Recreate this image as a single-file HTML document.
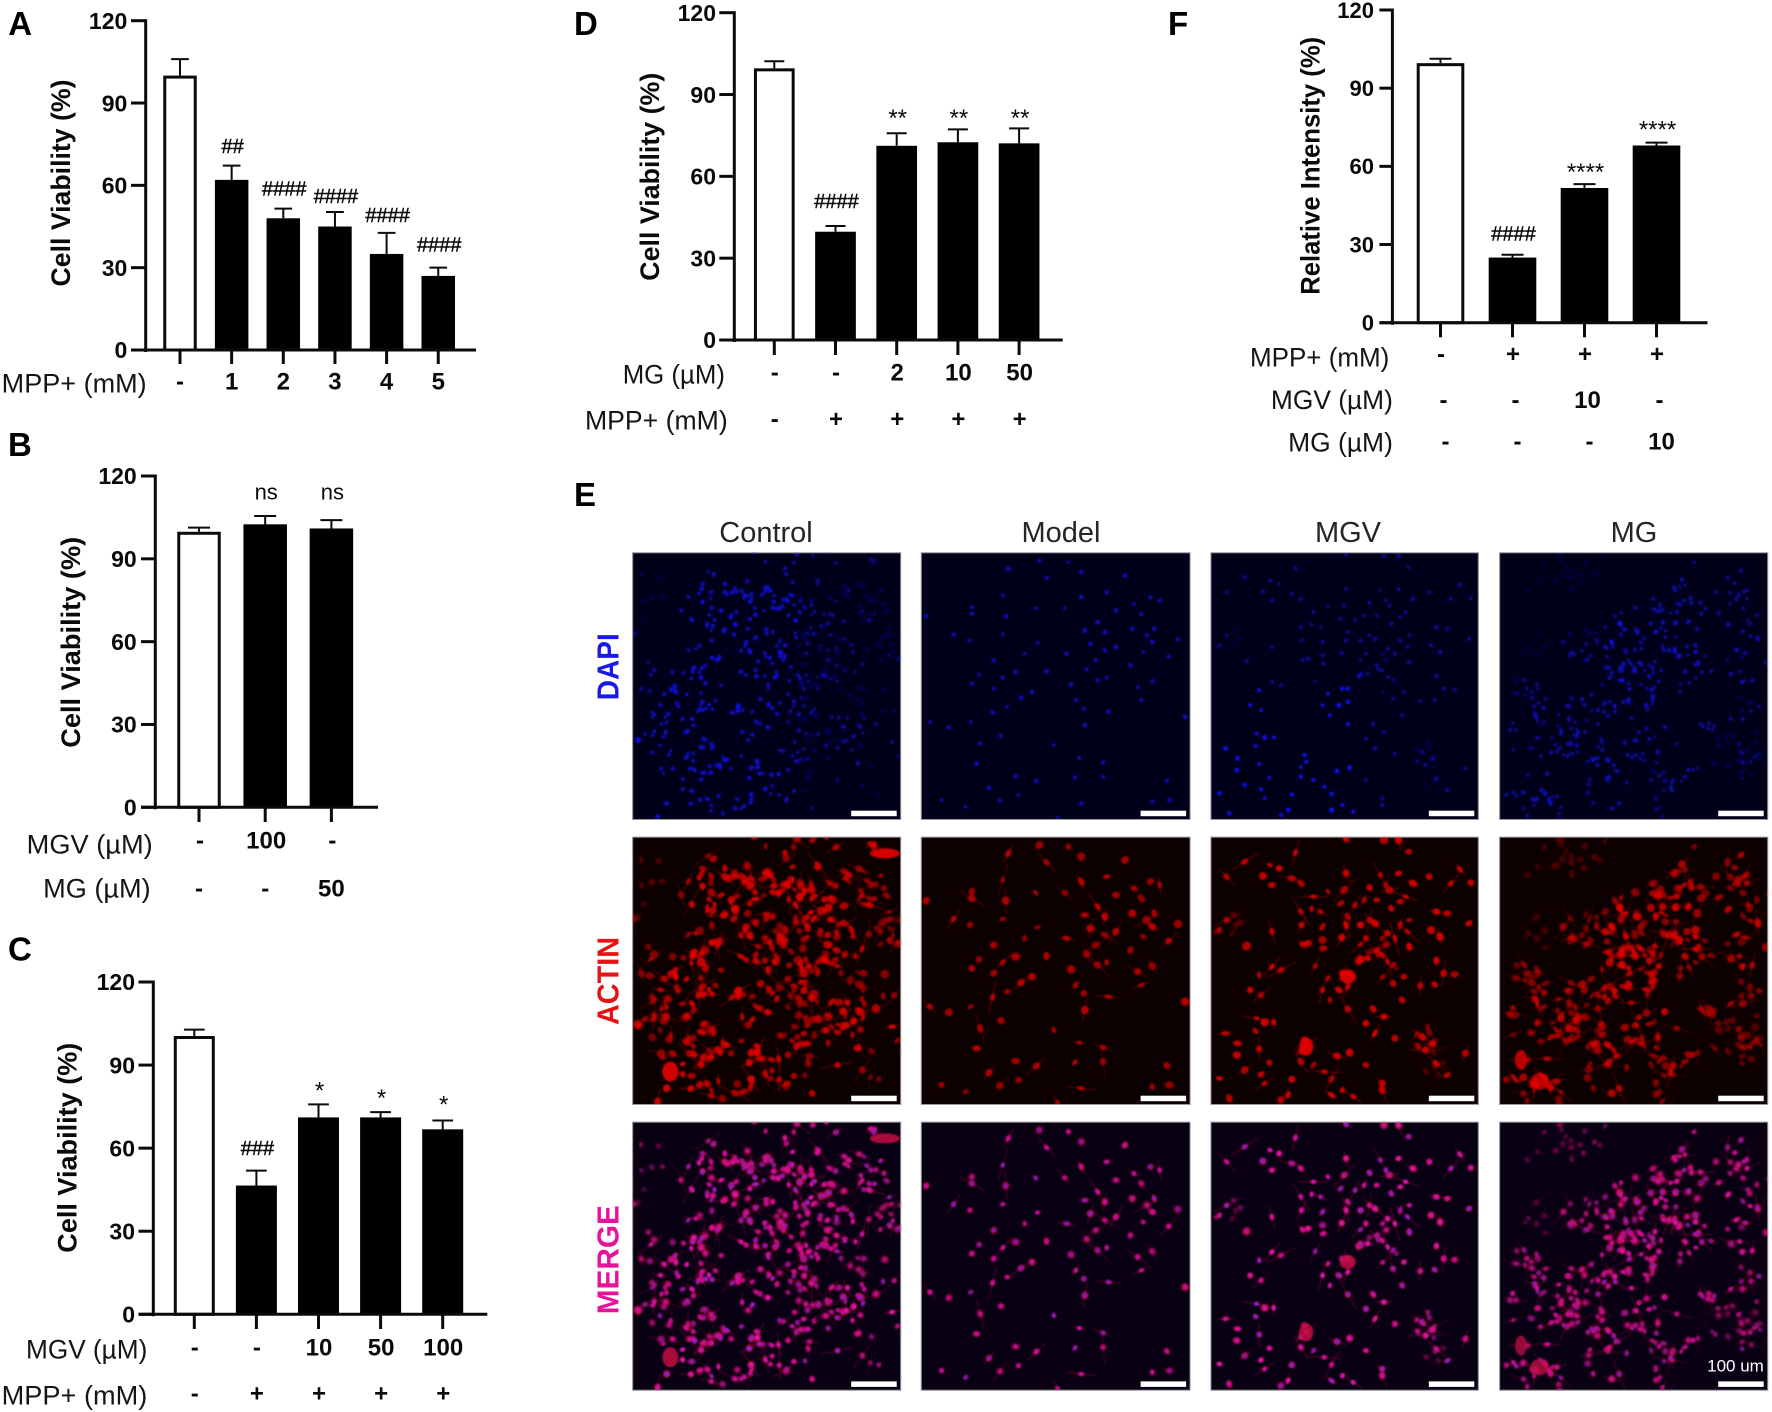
<!DOCTYPE html>
<html lang="en">
<head>
<meta charset="utf-8">
<title>Cell viability bar charts and fluorescence micrographs</title>
<style>
html,body{margin:0;padding:0;background:#fff;}
svg{display:block;font-family:"Liberation Sans",Arial,sans-serif;}
</style>
</head>
<body>
<svg id="figure" xmlns="http://www.w3.org/2000/svg" width="1772" height="1412" viewBox="0 0 1772 1412">
  <defs>
    <filter id="soft" x="-5%" y="-5%" width="110%" height="110%"><feGaussianBlur stdDeviation="0.75"/></filter>
  </defs>
  <rect x="0" y="0" width="1772" height="1412" fill="#fff"/>
</svg>
<script>
// ---------- Chart data ----------
const yTickValues = [0, 30, 60, 90, 120];

const panelAValues = [100, 62, 48, 45, 35, 27];
const panelAErrorTops = [106, 67.2, 51.5, 50.3, 42.7, 30];
const panelAMarks = ['', '##', '####', '####', '####', '####'];
const panelAMarkLevels = [0, 74.4, 58.9, 56.2, 49.2, 38.5];
const panelARowMPP = ['-', '1', '2', '3', '4', '5'];

const panelBValues = [99.8, 102.5, 101];
const panelBErrorTops = [101.3, 105.5, 104];
const panelBMarks = ['', 'ns', 'ns'];
const panelBMarkLevels = [0, 113.5, 113.5];
const panelBRowMGV = ['-', '100', '-'];
const panelBRowMG = ['-', '-', '50'];

const panelCValues = [100.5, 46.5, 71.1, 71.1, 66.8];
const panelCErrorTops = [102.8, 51.9, 75.8, 73, 70];
const panelCMarks = ['', '###', '*', '*', '*'];
const panelCMarkLevels = [0, 60, 82.8, 80.2, 77.8];
const panelCRowMGV = ['-', '-', '10', '50', '100'];
const panelCRowMPP = ['-', '+', '+', '+', '+'];

const panelDValues = [99.6, 39.7, 71.2, 72.5, 72.1];
const panelDErrorTops = [102.2, 41.8, 75.8, 77.2, 77.6];
const panelDMarks = ['', '####', '**', '**', '**'];
const panelDMarkLevels = [0, 51, 83.5, 83.5, 83.5];
const panelDRowMG = ['-', '-', '2', '10', '50'];
const panelDRowMPP = ['-', '+', '+', '+', '+'];

const panelFValues = [99.6, 25, 51.7, 68];
const panelFErrorTops = [101.3, 26.1, 53.2, 69.1];
const panelFMarks = ['', '####', '****', '****'];
const panelFMarkLevels = [0, 34.3, 60.1, 76.4];
const panelFRowMPP = ['-', '+', '+', '+'];
const panelFRowMGV = ['-', '-', '10', '-'];
const panelFRowMG = ['-', '-', '-', '10'];

// ---------- Layout (geometry lives here, not in the data arrays) ----------
const layouts = [
  {id:'a', axisX:145.7, top:20.7, zero:350, x0:180, step:51.65, barW:33.5, end:476, tickL:131, tickB:364, labelX:127.3, capW:17.7, tickFont:23,
   title:'Cell Viability (%)', titleX:70, titleY:183, titleLen:207,
   values:panelAValues, errs:panelAErrorTops, marks:panelAMarks, levels:panelAMarkLevels,
   rows:[{label:'MPP+ (mM)', right:146.7, len:145, labelY:383, valueY:381, dx:0, cells:panelARowMPP}]},
  {id:'b', axisX:155.3, top:476, zero:807.3, x0:199, step:66.2, barW:43.5, end:378, tickL:141, tickB:822, labelX:136.7, capW:22, tickFont:23,
   title:'Cell Viability (%)', titleX:80, titleY:642.3, titleLen:211,
   values:panelBValues, errs:panelBErrorTops, marks:panelBMarks, levels:panelBMarkLevels,
   rows:[{label:'MGV (\u00B5M)', right:152.7, len:126, labelY:844, valueY:840, dx:1, cells:panelBRowMGV},
         {label:'MG (\u00B5M)', right:150.7, len:107.5, labelY:888, valueY:888, dx:0, cells:panelBRowMG}]},
  {id:'c', axisX:153.3, top:982, zero:1314.3, x0:194.3, step:62.1, barW:41, end:487.3, tickL:138.5, tickB:1329, labelX:135, capW:20.7, tickFont:23,
   title:'Cell Viability (%)', titleX:76.5, titleY:1147.7, titleLen:210,
   values:panelCValues, errs:panelCErrorTops, marks:panelCMarks, levels:panelCMarkLevels,
   rows:[{label:'MGV (\u00B5M)', right:147.3, len:121.3, labelY:1349, valueY:1346.7, dx:0.5, cells:panelCRowMGV},
         {label:'MPP+ (mM)', right:147.3, len:145.6, labelY:1395, valueY:1393, dx:0.5, cells:panelCRowMPP}]},
  {id:'d', axisX:734.3, top:12.7, zero:340, x0:774.3, step:61.2, barW:40.7, end:1062.7, tickL:719.3, tickB:355, labelX:716, capW:20, tickFont:23,
   title:'Cell Viability (%)', titleX:659, titleY:176.7, titleLen:208,
   values:panelDValues, errs:panelDErrorTops, marks:panelDMarks, levels:panelDMarkLevels,
   rows:[{label:'MG (\u00B5M)', right:725, len:102.3, labelY:374, valueY:371.7, dx:0.5, cells:panelDRowMG},
         {label:'MPP+ (mM)', right:727.7, len:142.7, labelY:420, valueY:418.3, dx:0.5, cells:panelDRowMPP}]},
  {id:'f', axisX:1392.4, top:10, zero:322.7, x0:1440.5, step:72, barW:47.6, end:1707.5, tickL:1379.4, tickB:337.3, labelX:1374, capW:22, tickFont:22,
   title:'Relative Intensity (%)', titleX:1319.5, titleY:165.8, titleLen:258,
   values:panelFValues, errs:panelFErrorTops, marks:panelFMarks, levels:panelFMarkLevels,
   rows:[{label:'MPP+ (mM)', right:1389.3, len:139.3, labelY:356.7, valueY:353.3, dx:0.5, cells:panelFRowMPP},
         {label:'MGV (\u00B5M)', right:1392.9, len:122, labelY:399.3, valueY:399.3, dx:3, cells:panelFRowMGV},
         {label:'MG (\u00B5M)', right:1392.9, len:104.8, labelY:441.7, valueY:440.7, dx:5, cells:panelFRowMG}]}
];

const panelLetters = [
  {t:'A', x:8.3, y:35}, {t:'B', x:8, y:456}, {t:'C', x:8, y:960.7},
  {t:'D', x:574, y:35}, {t:'E', x:574, y:506}, {t:'F', x:1168, y:35}
];

// ---------- Helpers ----------
const NS = 'http://www.w3.org/2000/svg';
const root = document.getElementById('figure');
function svgEl(tag, attrs, parent) {
  const el = document.createElementNS(NS, tag);
  for (const k in attrs) el.setAttribute(k, attrs[k]);
  (parent || root).appendChild(el);
  return el;
}
const INK = '#0a0a0a';

// ---------- Bar charts ----------
function drawChart(p) {
  const g = svgEl('g', {});
  
  
  const yScale = v => p.zero - (v / 120) * (p.zero - p.top);
  const xScale = i => p.x0 + i * p.step;

  // bars and error bars
  p.values.forEach((v, i) => {
    const cx = xScale(i), yv = yScale(v), ye = yScale(p.errs[i]);
    const eb = svgEl('path', {d:`M${cx} ${yv}V${ye}M${cx - p.capW / 2} ${ye}H${cx + p.capW / 2}`, stroke:INK, 'stroke-width':2, fill:'none'}, g);
    
    
    let bar;
    if (i === 0) {
      bar = svgEl('rect', {x:cx - p.barW / 2 + 1.5, y:yv + 1.5, width:p.barW - 3, height:p.zero - yv - 1.5, fill:'#fff', stroke:INK, 'stroke-width':3}, g);
    } else {
      bar = svgEl('rect', {x:cx - p.barW / 2, y:yv, width:p.barW, height:p.zero - yv, fill:'#000'}, g);
    }
    
    
  });

  // axes
  const yAxis = svgEl('line', {x1:p.axisX, x2:p.axisX, y1:p.top - 1.5, y2:p.zero + 2, stroke:INK, 'stroke-width':3}, g);
  
  
  const xAxis = svgEl('line', {x1:p.tickL, x2:p.end, y1:p.zero, y2:p.zero, stroke:INK, 'stroke-width':3}, g);
  
  

  yTickValues.forEach(v => {
    const y = yScale(v);
    const tick = svgEl('line', {x1:p.tickL, x2:p.axisX, y1:y, y2:y, stroke:INK, 'stroke-width':3}, g);
    
    
    const lab = svgEl('text', {x:p.labelX, y:y + p.tickFont * 0.358, 'text-anchor':'end', 'font-size':p.tickFont, 'font-weight':'bold', fill:INK}, g);
    lab.textContent = String(v);
    
    
  });

  p.values.forEach((v, i) => {
    const cx = xScale(i);
    const tick = svgEl('line', {x1:cx, x2:cx, y1:p.zero, y2:p.tickB, stroke:INK, 'stroke-width':3}, g);
    
    
  });

  // y title
  const title = svgEl('text', {
    transform:`translate(${p.titleX} ${p.titleY}) rotate(-90)`, 'text-anchor':'middle',
    'font-size':26.5, 'font-weight':'bold', fill:INK, textLength:p.titleLen, lengthAdjust:'spacingAndGlyphs'
  }, g);
  title.textContent = p.title;
  
  

  // significance marks
  p.marks.forEach((m, i) => {
    if (!m) return;
    const isStar = m[0] === '*', isHash = m[0] === '#';
    const fs = isStar ? 24 : isHash ? 20 : 22;
    const shift = isStar ? 0.57 : isHash ? 0.35 : 0.26;
    const el = svgEl('text', {x:xScale(i) + 1, y:yScale(p.levels[i]) + fs * shift, 'text-anchor':'middle', 'font-size':fs, fill:INK, stroke:isHash ? INK : 'none', 'stroke-width':isHash ? 0.45 : 0}, g);
    el.textContent = m;
    
    
  });

  // treatment rows under the axis
  p.rows.forEach(r => {
    const lab = svgEl('text', {x:r.right, y:r.labelY + 27 * 0.358, 'text-anchor':'end', 'font-size':27, fill:'#151515', textLength:r.len, lengthAdjust:'spacingAndGlyphs'}, g);
    lab.textContent = r.label;
    
    
    r.cells.forEach((c, i) => {
      const t = svgEl('text', {x:xScale(i) + r.dx, y:r.valueY + 24 * 0.358, 'text-anchor':'middle', 'font-size':24, 'font-weight':'bold', fill:INK}, g);
      t.textContent = c;
      
      
    });
  });
}
layouts.forEach(drawChart);

panelLetters.forEach(l => {
  const t = svgEl('text', {x:l.x, y:l.y, 'font-size':33, 'font-weight':'bold', fill:'#000'});
  t.textContent = l.t;
  
  
});

// ---------- Micrographs (illustrative image texture, not chart data) ----------
const micrographColumns = [
  {name:'Control', x:632.2, w:269, cx:766, fx:20, fw:740, bright:.92,
   big:[[125,725,8,10],[715,70,15,5]],
   pts:[[400,135],[275,115],[275,140],[115,775],[90,815],[515,790],[585,705],[640,655],[735,590]],
   clusters:[[460,130,55,18,1],[300,200,50,14,1],[520,240,45,16,.95],[640,170,60,18,.85],[380,330,55,26,.9],[560,340,70,36,.85],[720,300,40,14,.65],[450,450,60,26,.85],[200,440,60,20,1],[280,120,60,12,.85],[190,200,40,8,.95],[200,300,50,10,.95],[400,60,100,18,.9],[610,70,70,8,.85],[150,500,50,14,.9],[340,530,40,10,1],[540,560,60,22,.85],[640,560,40,10,.95],[220,640,45,18,.8],[440,680,60,18,.9],[310,710,60,16,1],[200,730,40,8,1],[60,560,50,8,.85],[100,620,50,7,.8],[80,400,40,5,.75],[60,120,50,5,.35],[45,260,30,4,.3],[700,680,50,6,.65],[430,770,60,4,.9],[230,790,30,4,1],[680,460,50,8,.7]]},
  {name:'Model', x:920.8, w:269.8, cx:1061, fx:815, fw:740, bright:.78,
   big:[], clusters:[],
   pts:[[1140,45],[1220,50],[1055,70],[1255,80],[1160,97],[1375,90],[1040,150],[1325,140],[1255,155],[1130,188],[1210,188],[955,185],[955,205],[1350,195],[1400,175],[1445,155],[1470,165],[1420,205],[1048,212],[830,212],[1300,230],[1265,255],[1320,260],[1040,267],[905,267],[1395,250],[1435,270],[1455,250],[1450,290],[1135,292],[1280,295],[950,285],[1350,305],[1520,282],[1320,315],[1425,320],[1215,325],[1100,325],[1495,333],[1015,345],[1295,345],[1390,360],[1075,380],[1160,378],[1270,372],[975,388],[1040,397],[955,415],[1300,405],[1325,397],[1450,408],[1227,418],[1410,425],[1015,430],[1090,458],[1120,440],[1240,465],[1262,490],[1420,465],[1052,485],[1330,500],[1540,515],[1012,502],[952,530],[840,530],[892,547],[1265,540],[1035,572],[978,595],[1180,600],[1250,638],[968,655],[1315,652],[1075,693],[1132,708],[1238,697],[1315,695],[1490,707],[1002,728],[1083,750],[1032,767],[938,785],[1255,775],[1450,770],[1497,765],[872,765],[1190,818]]},
  {name:'MGV', x:1210.4, w:268.4, cx:1348, fx:15, fw:742, bright:.92,
   big:[[280,650,7,9],[395,440,8,7]],
   clusters:[[480,385,45,8,.7],[610,630,30,9,.55],[60,290,30,5,.35],[660,730,40,4,.3]],
   pts:[[390,28],[495,30],[535,30],[563,65],[250,68],[180,105],[110,95],[205,115],[390,130],[160,138],[60,140],[535,130],[485,135],[620,140],[575,160],[500,165],[510,180],[265,160],[240,145],[185,165],[385,180],[455,173],[705,118],[735,158],[680,160],[340,185],[300,200],[375,220],[440,210],[475,210],[415,225],[540,215],[555,200],[515,235],[265,245],[295,237],[320,245],[395,260],[455,270],[430,285],[470,280],[565,270],[540,285],[505,310],[267,285],[325,290],[390,285],[625,300],[560,305],[670,250],[640,245],[730,280],[185,305],[40,300],[60,270],[285,340],[270,343],[325,330],[378,323],[445,325],[430,343],[327,355],[525,325],[565,350],[650,320],[115,348],[475,360],[490,375],[505,395],[520,405],[450,385],[425,393],[305,408],[640,392],[185,410],[150,435],[210,420],[395,430],[380,430],[340,445],[395,470],[370,480],[325,480],[345,510],[520,460],[550,440],[595,467],[635,463],[660,430],[690,433],[395,537],[465,537],[495,560],[545,510],[155,495],[125,480],[143,565],[165,577],[190,577],[445,580],[470,610],[525,625],[600,620],[630,640],[610,660],[140,603],[57,610],[90,640],[150,657],[88,675],[280,650],[275,630],[265,665],[400,668],[365,678],[178,698],[265,695],[300,705],[330,725],[445,705],[110,720],[155,733],[165,760],[240,748],[350,747],[40,745],[350,795],[380,780],[410,800],[490,760],[490,780],[67,805],[210,810],[230,795],[720,670],[670,735],[640,700]]},
  {name:'MG', x:1499.2, w:269, cx:1634, fx:815, fw:740, bright:.8,
   big:[[875,690,6,10],[925,755,9,8]],
   pts:[[1480,75],[1445,238],[1360,250],[1355,300],[985,565],[1270,545],[1145,775]],
   clusters:[[1290,190,45,16,.95],[1200,300,80,44,.95],[1330,370,50,18,1],[1180,430,60,30,1],[1040,300,40,14,.75],[1060,500,50,14,.9],[940,570,70,34,.85],[1070,610,40,12,.9],[1210,600,40,12,.9],[1300,670,60,16,.85],[1470,640,50,22,.55],[900,740,50,14,.95],[1110,720,50,12,.95],[1050,50,60,10,.4],[1400,110,70,12,.9],[1500,190,50,10,.85],[1500,340,50,12,.85],[880,470,50,12,.7],[950,80,60,8,.35],[1280,780,40,8,.8],[1000,790,40,6,.85],[900,300,50,5,.3],[1430,500,60,8,.8],[1520,520,35,5,.7]]}
];

const micrographRows = [
  {name:'DAPI', y:552.3, h:267.7, color:'#1a1ae6', labelY:666.7, labelLen:67, bg:'#00001a'},
  {name:'ACTIN', y:836.7, h:268.3, color:'#e41414', labelY:981, labelLen:88, bg:'#0c0000'},
  {name:'MERGE', y:1121.7, h:269, color:'#e6139b', labelY:1259.7, labelLen:109, bg:'#090014'}
];

function rng(seed) {
  return function () {
    seed |= 0; seed = seed + 0x6D2B79F5 | 0;
    let t = Math.imul(seed ^ seed >>> 15, 1 | seed);
    t = t + Math.imul(t ^ t >>> 7, 61 | t) ^ t;
    return ((t ^ t >>> 14) >>> 0) / 4294967296;
  };
}

function buildCells(col, seed) {
  const r = rng(seed), out = [];
  col.pts.forEach(p => out.push({x:(p[0] - col.fx) / col.fw, y:(p[1] - 20) / 805, op:.75 + r() * .25, a:r() * 180, e:.55 + r() * .5, s:.85 + r() * .35, big:0}));
  col.clusters.forEach(c => {
    const n = Math.round(c[3] * 1.15);
    for (let i = 0; i < n; i++) {
      const ang = r() * 6.283, rad = Math.sqrt(r()) * c[2] * 1.4;
      out.push({x:(c[0] + Math.cos(ang) * rad - col.fx) / col.fw, y:(c[1] + Math.sin(ang) * rad * 1.05 - 20) / 805, op:c[4] * (.6 + r() * .4), a:r() * 180, e:.55 + r() * .5, s:.8 + r() * .4, big:0});
    }
  });
  col.big.forEach(b => out.push({x:(b[0] - col.fx) / col.fw, y:(b[1] - 20) / 805, op:1, a:0, e:1, s:1, big:1, rx:b[2], ry:b[3]}));
  return out;
}

micrographRows.forEach((row, ri) => {
  const lab = svgEl('text', {
    transform:`translate(618.5 ${row.labelY}) rotate(-90)`, 'text-anchor':'middle',
    'font-size':31, 'font-weight':'bold', fill:row.color, textLength:row.labelLen, lengthAdjust:'spacingAndGlyphs'
  });
  lab.textContent = row.name;
  
  
});

micrographColumns.forEach((col, ci) => {
  const head = svgEl('text', {x:col.cx, y:542, 'text-anchor':'middle', 'font-size':29, fill:'#262626'});
  head.textContent = col.name;
  
  

  const cells = buildCells(col, 97 + ci * 13);
  micrographRows.forEach((row, ri) => {
    const clipId = 'clip-' + ci + '-' + ri;
    const clip = svgEl('clipPath', {id:clipId});
    svgEl('rect', {x:col.x, y:row.y, width:col.w, height:row.h}, clip);

    const g = svgEl('g', {'clip-path':`url(#${clipId})`});
    
    
    svgEl('rect', {x:col.x, y:row.y, width:col.w, height:row.h, fill:row.bg}, g);
    const cellGroup = svgEl('g', {filter:'url(#soft)'}, g);

    cells.forEach((c, k) => {
      const px = col.x + c.x * col.w, py = row.y + c.y * row.h;
      const rx = c.big ? c.rx : 3.7 * c.s, ry = c.big ? c.ry : rx * c.e;
      const tf = `rotate(${c.a} ${px} ${py})`;
      const op = c.op * col.bright;
      if (row.name === 'DAPI') {
        if (c.big) return;
        let d = op * .85;
        if (col.name === 'Control' && c.x > .62) d *= .55;
        if (col.name === 'MGV') d *= (c.y > .5 && c.x < .55) ? 1.2 : .6;
        if (col.name === 'MG') d *= .85;
        svgEl('circle', {cx:px, cy:py, r:2.3 * Math.min(c.s, 1.1), fill:'#1212ff', opacity:Math.min(d, 1)}, cellGroup);
      } else if (row.name === 'ACTIN') {
        if (k % 2 === 0) {
          const len = 7 + (k % 7) * 1.6, rad = c.a * Math.PI / 180;
          svgEl('line', {x1:px - Math.cos(rad) * len, y1:py - Math.sin(rad) * len, x2:px + Math.cos(rad) * len, y2:py + Math.sin(rad) * len, stroke:'#b80000', 'stroke-width':1.1, opacity:op * .6}, cellGroup);
        }
        svgEl('ellipse', {cx:px, cy:py, rx:rx, ry:ry, transform:tf, fill:'#e40505', opacity:op}, cellGroup);
      } else {
        if (k % 2 === 0) {
          const len = 7 + (k % 7) * 1.6, rad = c.a * Math.PI / 180;
          svgEl('line', {x1:px - Math.cos(rad) * len, y1:py - Math.sin(rad) * len, x2:px + Math.cos(rad) * len, y2:py + Math.sin(rad) * len, stroke:'#b40838', 'stroke-width':1, opacity:op * .6}, cellGroup);
        }
        svgEl('ellipse', {cx:px, cy:py, rx:rx, ry:ry, transform:tf, fill:'#c80a44', opacity:op * .9}, cellGroup);
        if (!c.big) svgEl('circle', {cx:px, cy:py, r:2.3, fill:(k % 3 === 0 ? '#8a20e0' : '#dc14c0'), opacity:op}, cellGroup);
      }
    });

    const border = svgEl('rect', {x:col.x + .5, y:row.y + .5, width:col.w - 1, height:row.h - 1, fill:'none', stroke:'#9a9a9a', 'stroke-width':1}, g);
    
    
    const bar = svgEl('rect', {x:col.x + col.w - 50, y:row.y + row.h - 9.3, width:45.5, height:5.5, fill:'#fff'}, g);
    
    

    if (row.name === 'MERGE' && col.name === 'MG') {
      const note = svgEl('text', {x:1735.5, y:1371.7, 'text-anchor':'middle', 'font-size':17, fill:'#fff'}, g);
      note.textContent = '100 um';
      
      
    }
  });
});
</script>
</body>
</html>
